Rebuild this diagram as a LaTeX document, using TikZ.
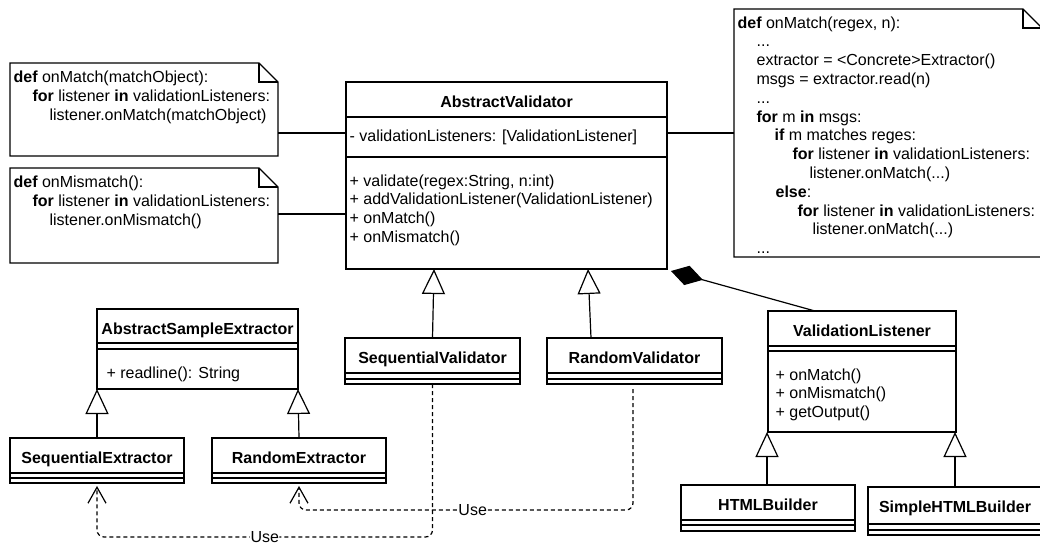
\documentclass[tikz,border=0pt]{standalone}
\usepackage{fontspec}
\setmainfont{Liberation Sans}
\usetikzlibrary{arrows.meta,calc}
\begin{document}
\begin{tikzpicture}[x=1pt,y=-1pt,line width=1.2pt,
  font=\fontsize{16}{18.8}\selectfont,
  box/.style={draw,fill=white,anchor=north west,inner sep=0pt,outer sep=0pt},
  notebox/.style={anchor=north west,inner sep=0pt,outer sep=0pt},
  nm/.style={anchor=base,inner sep=0pt,font=\fontsize{16}{18.8}\selectfont\bfseries},
  tx/.style={anchor=base west,inner sep=0pt},
  inh/.style={-{Triangle[open,fill=white,length=25pt,width=23pt]}},
  dep/.style={dash pattern=on 4pt off 3pt,rounded corners=7pt,-{Straight Barb[length=16pt,width=18pt]}},
  lbl/.style={fill=white,inner sep=0.5pt,font=\fontsize{16}{18.8}\selectfont},
  comp/.style={-{Diamond[fill=black,length=33pt,width=20pt]}}]
\useasboundingbox (0,0) rectangle (1040,544);
\clip (0,0) rectangle (1040,544);
\fill[white] (0,0) rectangle (1040,544);

% ---------- notes ----------
\node[notebox,minimum width=268pt,minimum height=93pt] (n1) at (10,63) {};
\node[notebox,minimum width=268pt,minimum height=95pt] (n2) at (10,168) {};
\node[notebox,minimum width=308pt,minimum height=248pt] (n3) at (734,9) {};
\foreach \n in {n1,n2,n3}{
  \draw (\n.north west) -- ([xshift=-19pt]\n.north east) -- ([yshift=-19pt]\n.north east)
        -- (\n.south east) -- (\n.south west) -- cycle;
  \draw ([xshift=-19pt]\n.north east) -- ([xshift=-19pt,yshift=-19pt]\n.north east)
        -- ([yshift=-19pt]\n.north east);
}
\node[tx] (n1a) at (13,82) {\textbf{def} onMatch(matchObject):};
\node[tx] (n1b) at (32,101) {\textbf{for} listener \textbf{in} validationListeners:};
\node[tx] (n1c) at (49,120) {listener.onMatch(matchObject)};

\node[tx] (n2a) at (13,187) {\textbf{def} onMismatch():};
\node[tx] (n2b) at (32,206) {\textbf{for} listener \textbf{in} validationListeners:};
\node[tx] (n2c) at (49,225) {listener.onMismatch()};

\node[tx] (n3a) at (737,28) {\textbf{def} onMatch(regex, n):};
\node[tx] (n3b) at (756,46.8) {...};
\node[tx] (n3c) at (756,65.6) {extractor = <Concrete>Extractor()};
\node[tx] (n3d) at (756,84.4) {msgs = extractor.read(n)};
\node[tx] (n3e) at (756,103.2) {...};
\node[tx] (n3f) at (756,122) {\textbf{for} m \textbf{in} msgs:};
\node[tx] (n3g) at (774,140.8) {\textbf{if} m matches reges:};
\node[tx] (n3h) at (792,159.6) {\textbf{for} listener \textbf{in} validationListeners:};
\node[tx] (n3i) at (809,178.4) {listener.onMatch(...)};
\node[tx] (n3j) at (775,197.2) {\textbf{else}:};
\node[tx] (n3k) at (797,216) {\textbf{for} listener \textbf{in} validationListeners:};
\node[tx] (n3l) at (812,234.8) {listener.onMatch(...)};
\node[tx] (n3m) at (756,253.6) {...};

% ---------- AbstractValidator ----------
\node[box,minimum width=321pt,minimum height=187pt] (av) at (346,82) {};
\draw (346,117) -- (667,117);
\draw (346,157) -- (667,157);
\node[nm] (avn) at (506.5,107) {AbstractValidator};
\node[tx] (ava) at (349,141) {- validationListeners: [ValidationListener]};
\node[tx] (avm1) at (349,186) {+ validate(regex:String, n:int)};
\node[tx] (avm2) at (349,204.7) {+ addValidationListener(ValidationListener)};
\node[tx] (avm3) at (349,223.4) {+ onMatch()};
\node[tx] (avm4) at (349,242.1) {+ onMismatch()};

\coordinate (y1) at (0,133);
\coordinate (y2) at (0,214);
\draw (n1.east |- y1) -- (av.west |- y1);
\draw (n2.east |- y2) -- (av.west |- y2);
\draw (av.east |- y1) -- (n3.west |- y1);

% ---------- AbstractSampleExtractor ----------
\node[box,minimum width=201pt,minimum height=80pt] (ase) at (97,309) {};
\draw (97,343) -- (298,343);
\draw (97,349) -- (298,349);
\node[nm] (asen) at (197.5,334.5) {AbstractSampleExtractor};
\node[tx] (asem) at (106,378) {+ readline(): String};

% ---------- Extractors ----------
\node[box,minimum width=174pt,minimum height=45pt] (se) at (10,438) {};
\draw (10,473) -- (184,473);
\draw (10,478) -- (184,478);
\node[nm] (sen) at (97,463.5) {SequentialExtractor};

\node[box,minimum width=174pt,minimum height=45pt] (re) at (212,438) {};
\draw (212,473) -- (386,473);
\draw (212,478) -- (386,478);
\node[nm] (ren) at (299,463.5) {RandomExtractor};

\draw[inh] (se.north) -- (ase.south west);
\draw[inh] (re.north) -- (ase.south east);

% ---------- Validators ----------
\node[box,minimum width=175pt,minimum height=46pt] (sv) at (345,338) {};
\draw (345,373) -- (520,373);
\draw (345,379) -- (520,379);
\node[nm] (svn) at (432.5,363.5) {SequentialValidator};

\node[box,minimum width=175pt,minimum height=46pt] (rv) at (547,338) {};
\draw (547,373) -- (722,373);
\draw (547,379) -- (722,379);
\node[nm] (rvn) at (634.5,363.5) {RandomValidator};

\coordinate (a1) at (434,269);
\coordinate (a2) at (588,269);
\coordinate (rvt) at (591,338);
\draw[inh] (sv.north) -- (a1);
\draw[inh] (rvt) -- (a2);

% ---------- ValidationListener ----------
\node[box,minimum width=188pt,minimum height=121pt] (vl) at (768,311) {};
\draw (768,346) -- (956,346);
\draw (768,351) -- (956,351);
\node[nm] (vln) at (862,336.5) {ValidationListener};
\node[tx] (vlm1) at (775,380) {+ onMatch()};
\node[tx] (vlm2) at (775,398.5) {+ onMismatch()};
\node[tx] (vlm3) at (775,417) {+ getOutput()};

\coordinate (dia) at (671,271);
\coordinate (vlt) at (815,311);
\draw[comp] (vlt) -- (dia);

% ---------- Builders ----------
\node[box,minimum width=174pt,minimum height=46pt] (hb) at (681,485) {};
\draw (681,520) -- (855,520);
\draw (681,525) -- (855,525);
\node[nm] (hbn) at (768,510.5) {HTMLBuilder};

\node[box,minimum width=177pt,minimum height=48pt] (shb) at (868,487) {};
\draw (868,524) -- (1045,524);
\draw (868,530) -- (1045,530);
\node[nm] (shbn) at (955,512) {SimpleHTMLBuilder};

\coordinate (v1) at (767,432);
\coordinate (v2) at (955,432);
\coordinate (hbt) at (767,485);
\coordinate (shbt) at (955,487);
\draw[inh] (hbt) -- (v1);
\draw[inh] (shbt) -- (v2);

% ---------- Use dependencies ----------
\draw[dep] (sv.south) -- ++(0,153) -| node[lbl,pos=0.25] {Use} ([yshift=-3pt]se.south);
\draw[dep] ([xshift=-1.5pt,yshift=-5pt]rv.south) -- ++(0,121) -| node[lbl,pos=0.24] {Use} ([yshift=-3pt]re.south);
\end{tikzpicture}
\end{document}
